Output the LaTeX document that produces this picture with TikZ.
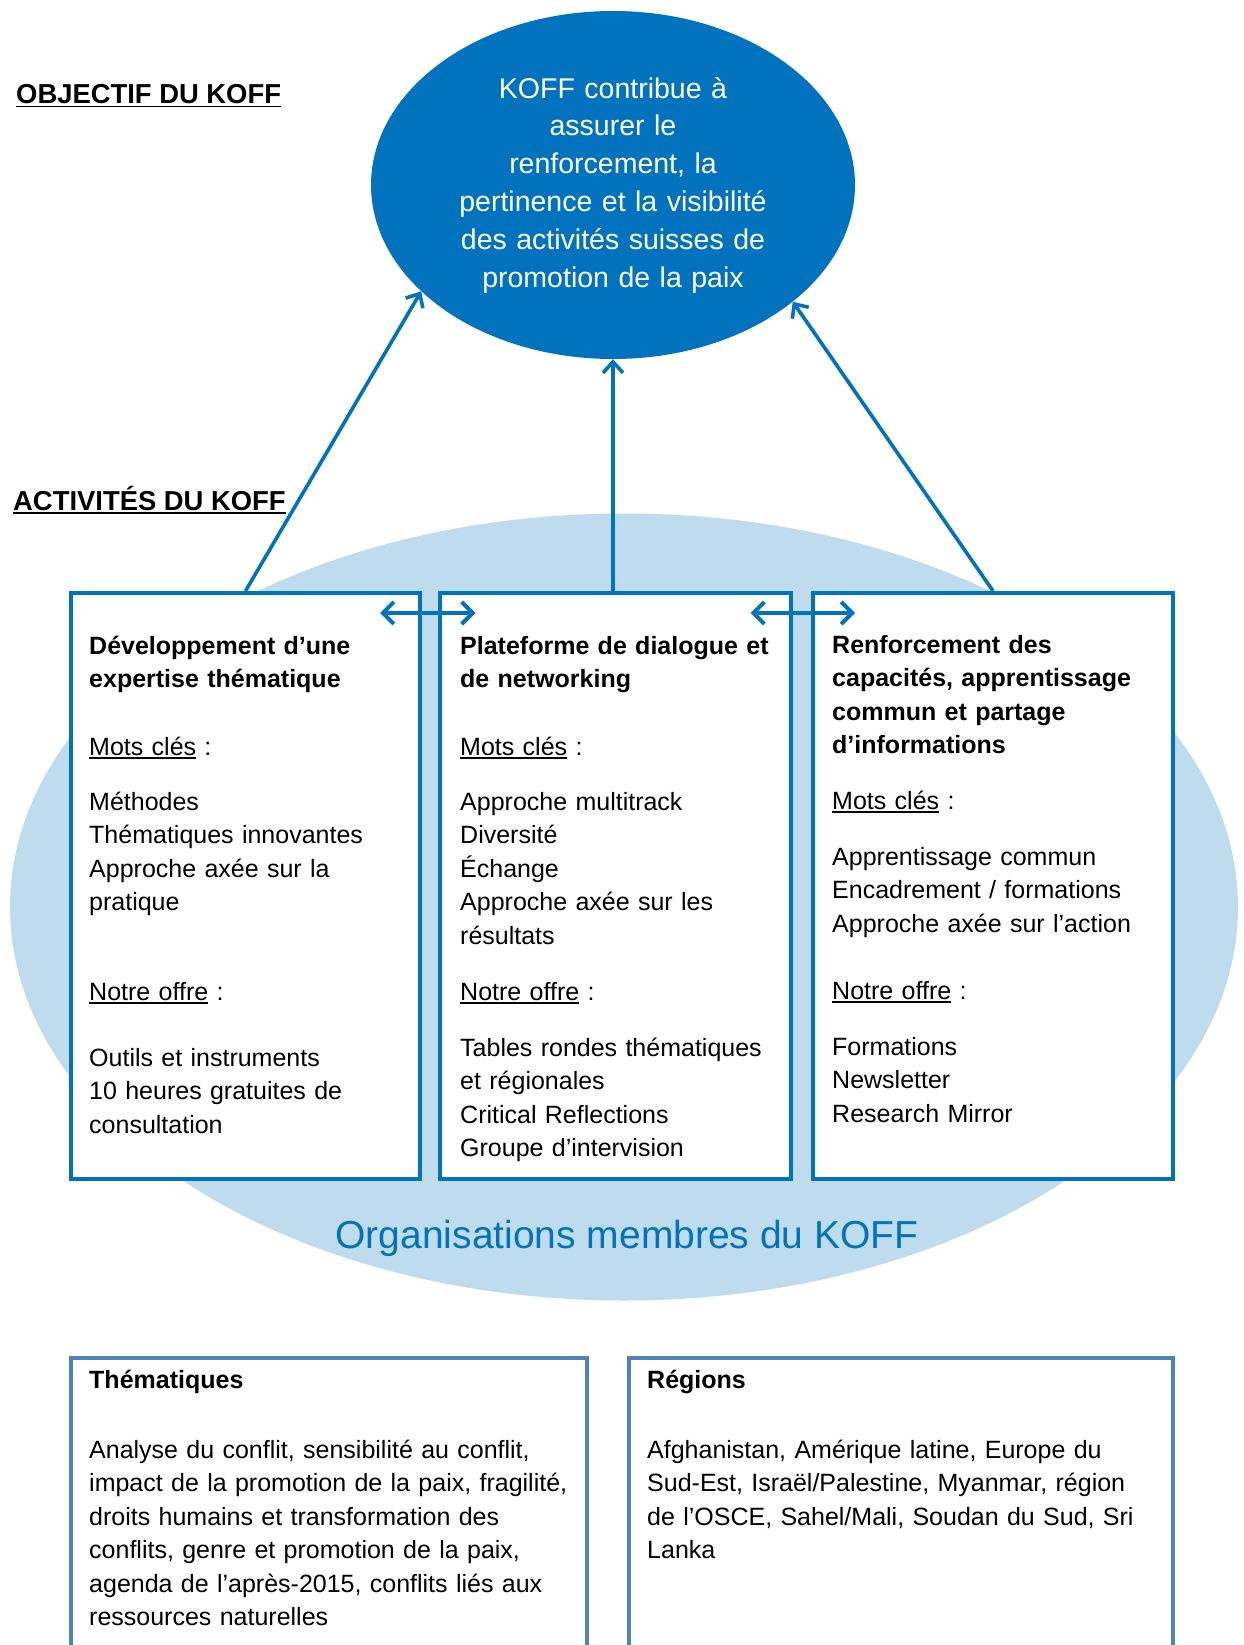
\documentclass[tikz,border=0pt]{standalone}
\usepackage{fontspec}
\setmainfont{Liberation Sans}
\usetikzlibrary{arrows.meta,shapes.geometric}

\definecolor{koffblue}{RGB}{0,114,190}
\definecolor{paleblue}{RGB}{190,220,238}
\definecolor{panelblue}{RGB}{79,129,189}

\newsavebox{\ulbox}
\newcommand{\undl}[1]{\sbox{\ulbox}{#1}\rlap{\rule[-3.5pt]{\wd\ulbox}{1.6pt}}\usebox{\ulbox}}

\begin{document}
\begin{tikzpicture}[x=1pt, y=-1pt, >={Straight Barb[length=11pt,width=20pt]},
    goal/.style={ellipse, fill=koffblue, text=white, align=center, text width=340pt,
        minimum width=484pt, minimum height=348pt, inner sep=0pt,
        font=\fontsize{28.5}{37.8}\selectfont},
    members/.style={ellipse, fill=paleblue, minimum width=1228pt, minimum height=787pt, inner sep=0pt},
    column/.style={rectangle, draw=koffblue, line width=4pt, fill=white, inner sep=0pt, minimum height=586pt},
    panel/.style={rectangle, draw=panelblue, line width=4pt, inner sep=0pt, minimum height=342pt},
    body/.style={anchor=base west, align=left, text width=340pt, inner sep=0pt, font=\fontsize{25}{33.5}\selectfont},
    head/.style={body, font=\fontsize{25}{33.5}\selectfont\bfseries},
    section/.style={anchor=base west, inner sep=0pt, font=\fontsize{27.4}{32}\selectfont\bfseries},
    link/.style={->, draw=koffblue, line width=3.6pt},
    exchange/.style={<->, draw=koffblue, line width=4pt, >={Straight Barb[length=11pt,width=22pt]}}]
    \useasboundingbox (0,0) rectangle (1243,1645);
    \clip (0,0) rectangle (1243,1645);

    % Nodes {area, goal, b1, b2, b3, p1, p2}
    \node [members]                     (area)  at (624,907)    {};
    \node [goal]                        (goal)  at (613,185)    {KOFF contribue à\\assurer le\\renforcement, la\\pertinence et la visibilité\\des activités suisses de\\promotion de la paix};
    \node [column, minimum width=349pt] (b1)    at (245.5,886)  {};
    \node [column, minimum width=351pt] (b2)    at (615,886)    {};
    \node [column, minimum width=360pt] (b3)    at (993,886)    {};
    \node [panel, minimum width=516pt]  (p1)    at (329,1529)   {};
    \node [panel, minimum width=544pt]  (p2)    at (901,1529)   {};

    % Headings
    \node [section]     (obj)   at (16,104)     {\undl{OBJECTIF DU KOFF}};
    \node [section]     (act)   at (13,510)     {\undl{ACTIVITÉS DU KOFF}};

    % Texts of b1
    \node [head]    (b1t)   at (89,654)     {Développement d’une\\expertise thématique};
    \node [body]    (b1k)   at (89,755)     {\undl{Mots clés} :};
    \node [body]    (b1m)   at (89,810)     {Méthodes\\Thématiques innovantes\\Approche axée sur la\\pratique};
    \node [body]    (b1o)   at (89,1000)    {\undl{Notre offre} :};
    \node [body]    (b1n)   at (89,1066)    {Outils et instruments\\10 heures gratuites de\\consultation};

    % Texts of b2
    \node [head]    (b2t)   at (460,654)    {Plateforme de dialogue et\\de networking};
    \node [body]    (b2k)   at (460,755)    {\undl{Mots clés} :};
    \node [body]    (b2m)   at (460,810)    {Approche multitrack\\Diversité\\Échange\\Approche axée sur les\\résultats};
    \node [body]    (b2o)   at (460,1000)   {\undl{Notre offre} :};
    \node [body]    (b2n)   at (460,1056)   {Tables rondes thématiques\\et régionales\\Critical Reflections\\Groupe d’intervision};

    % Texts of b3
    \node [head]    (b3t)   at (832,653)    {Renforcement des\\capacités, apprentissage\\commun et partage\\d’informations};
    \node [body]    (b3k)   at (832,809)    {\undl{Mots clés} :};
    \node [body]    (b3m)   at (832,865)    {Apprentissage commun\\Encadrement / formations\\Approche axée sur l’action};
    \node [body]    (b3o)   at (832,999)    {\undl{Notre offre} :};
    \node [body]    (b3n)   at (832,1055)   {Formations\\Newsletter\\Research Mirror};

    \node [anchor=base, inner sep=0pt, text=koffblue, font=\fontsize{39}{45}\selectfont] (org) at (627,1248) {Organisations membres du KOFF};

    % Texts of p1, p2
    \node [head]                    (p1t)   at (89,1388)    {Thématiques};
    \node [body, text width=500pt]  (p1b)   at (89,1458)    {Analyse du conflit, sensibilité au conflit,\\impact de la promotion de la paix, fragilité,\\droits humains et transformation des\\conflits, genre et promotion de la paix,\\agenda de l’après-2015, conflits liés aux\\ressources naturelles};
    \node [head]                    (p2t)   at (647,1388)   {Régions};
    \node [body, text width=500pt]  (p2b)   at (647,1458)   {Afghanistan, Amérique latine, Europe du\\Sud-Est, Israël/Palestine, Myanmar, région\\de l’OSCE, Sahel/Mali, Soudan du Sud, Sri\\Lanka};

    % Paths
    \draw [link]    (b1.north)  --  (goal.209);
    \draw [link]    (b2.north -| goal.south)  --  (goal.south);
    \draw [link]    (b3.north)  --  (goal.327);
    \draw [exchange]    ([xshift=-42pt,yshift=-22pt]b1.north east)  --  ([xshift=38pt,yshift=-22pt]b2.north west);
    \draw [exchange]    ([xshift=-42pt,yshift=-22pt]b2.north east)  --  ([xshift=44pt,yshift=-22pt]b3.north west);
\end{tikzpicture}
\end{document}
